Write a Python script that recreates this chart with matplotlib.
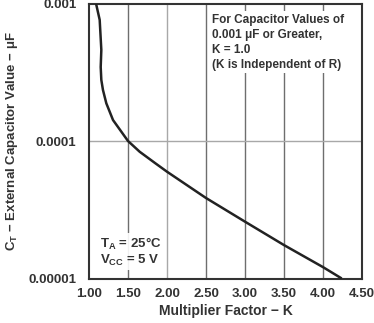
import matplotlib
matplotlib.use("Agg")
import matplotlib.pyplot as plt

plt.rcParams['font.family'] = ['Liberation Sans', 'DejaVu Sans']

# curve
k_vals = [1.09, 1.137, 1.158, 1.150, 1.158, 1.179, 1.222, 1.308, 1.414, 1.50,
          1.65, 1.85, 2.0, 2.5, 3.0, 3.5, 4.0, 4.24]
c_vals = [1.0e-3, 7.6e-4, 4.6e-4, 3.45e-4, 2.78e-4, 2.35e-4, 1.88e-4, 1.42e-4, 1.17e-4, 1.0e-4,
          8.35e-5, 6.89e-5, 5.98e-5, 3.85e-5, 2.59e-5, 1.75e-5, 1.21e-5, 1.0e-5]

x_ticks = [1.0, 1.5, 2.0, 2.5, 3.0, 3.5, 4.0, 4.5]
x_labels = ["1.00", "1.50", "2.00", "2.50", "3.00", "3.50", "4.00", "4.50"]
y_ticks = [1e-5, 1e-4, 1e-3]
y_labels = ["0.00001", "0.0001", "0.001"]

# vertical grid lines; the one at 2.00 is lighter
grid_x = [1.5, 2.0, 2.5, 3.0, 3.5, 4.0]
grid_col = ["#6e6e6e", "#a8a8a8", "#6e6e6e", "#6e6e6e", "#6e6e6e", "#6e6e6e"]

fig = plt.figure(figsize=(3.74, 3.23), dpi=100)
ax = fig.add_axes([89/374, 1 - 278.5/323, (362-89)/374, (278.5-3.5)/323])

for gx, gc in zip(grid_x, grid_col):
    ax.axvline(gx, color=gc, lw=1.0, zorder=1)
ax.axhline(1e-4, color="#a8a8a8", lw=1.0, zorder=1)

ax.plot(k_vals, c_vals, color="#222222", lw=1.8, zorder=3,
        solid_joinstyle="round", solid_capstyle="butt")

ax.set_yscale("log")
ax.set_xlim(1.0, 4.5)
ax.set_ylim(1e-5, 1e-3)
ax.set_xticks(x_ticks)
ax.set_xticklabels(x_labels)
ax.set_yticks(y_ticks)
ax.set_yticklabels(y_labels)
ax.minorticks_off()
ax.tick_params(axis="x", length=0, labelsize=9.5, pad=7)
ax.tick_params(axis="y", length=0, labelsize=9.5, pad=9)
for lab in ax.get_xticklabels() + ax.get_yticklabels():
    lab.set_fontweight("bold")
    lab.set_color("#333333")

for sp in ax.spines.values():
    sp.set_color("#333333")
    sp.set_linewidth(1.5)

ax.set_xlabel("Multiplier Factor \u2212 K", fontsize=10, fontweight="bold", color="#333333", labelpad=3)
ax.set_ylabel("C$_\\mathregular{T}$ \u2212 External Capacitor Value \u2212 \u03bcF",
              fontsize=9.5, fontweight="bold", color="#333333", labelpad=6)

ax.text(0.45, 0.962,
        "For Capacitor Values of\n0.001 \u03bcF or Greater,\nK = 1.0\n(K is Independent of R)",
        transform=ax.transAxes, ha="left", va="top", fontsize=8.5, fontweight="bold",
        color="#333333", linespacing=1.32, zorder=4,
        bbox=dict(facecolor="white", edgecolor="none", pad=2))

ax.text(0.04, 0.04, "T$_\\mathregular{A}$ = 25\u00b0C\nV$_\\mathregular{CC}$ = 5 V",
        transform=ax.transAxes, ha="left", va="bottom", fontsize=9.5, fontweight="bold",
        color="#333333", linespacing=1.05, zorder=4,
        bbox=dict(facecolor="white", edgecolor="none", pad=2, alpha=0.9))

fig.savefig("out.png", dpi=100)
